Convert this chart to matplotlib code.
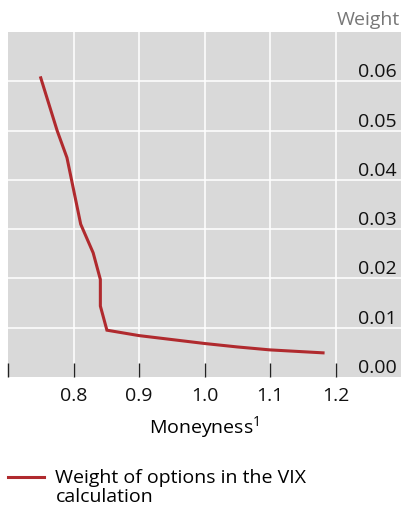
import matplotlib
matplotlib.use("Agg")
import matplotlib.pyplot as plt

plt.rcParams['font.family'] = ['Open Sans', 'DejaVu Sans']
plt.rcParams['mathtext.fontset'] = 'custom'
plt.rcParams['mathtext.rm'] = 'Open Sans'

moneyness = [0.750, 0.775, 0.790, 0.811, 0.830, 0.841, 0.841, 0.851, 0.90, 0.95, 1.00, 1.05, 1.10, 1.181]
weight = [0.0607, 0.0500, 0.0445, 0.0310, 0.0252, 0.0198, 0.0144, 0.0095, 0.0084, 0.0076, 0.0068, 0.0061, 0.0055, 0.0049]

xticks = [0.7, 0.8, 0.9, 1.0, 1.1, 1.2]
xticklabels = ['', '0.8', '0.9', '1.0', '1.1', '1.2']
yticks = [0.00, 0.01, 0.02, 0.03, 0.04, 0.05, 0.06]
yticklabels = ['0.00', '0.01', '0.02', '0.03', '0.04', '0.05', '0.06']

FS = 14
W, H = 406, 508
fig = plt.figure(figsize=(W/100, H/100), dpi=100)
ax = fig.add_axes([8/W, 1-377/H, (401-8)/W, (377-32)/H])
ax.set_facecolor('#d9d9d9')
for s in ax.spines.values():
    s.set_visible(False)

line, = ax.plot(moneyness, weight, color='#b02a2e', lw=2.2, solid_joinstyle='miter')

ax.set_xlim(0.7, 1.3)
ax.set_ylim(0, 0.07)
ax.set_xticks(xticks)
ax.set_xticklabels(xticklabels, fontsize=FS, color='#111111')
ax.tick_params(axis='x', direction='in', length=10, width=1, color='#222222', pad=7)

ax.yaxis.tick_right()
ax.set_yticks(yticks)
ax.set_yticklabels(yticklabels, fontsize=FS, color='#111111')
ax.tick_params(axis='y', length=0, pad=-3)
plt.setp(ax.get_yticklabels(), ha='right', va='bottom')

ax.grid(True, color='white', lw=1.1)
ax.set_axisbelow(True)
ax.get_xgridlines()[0].set_visible(False)
ax.get_ygridlines()[0].set_visible(False)

ax.set_xlabel('Moneyness$^1$', fontsize=FS, labelpad=7)

fig.text(400/W, 1-20/H, 'Weight', ha='right', va='center', fontsize=FS, color='#777777')

leg = fig.legend([line], ['Weight of options in the VIX\ncalculation'], loc='upper left',
                 bbox_to_anchor=(0/W, 1-461/H), frameon=False, fontsize=FS,
                 handlelength=1.85, handletextpad=0.6, borderaxespad=0)
for t in leg.get_texts():
    t.set_linespacing(1.1)
h = leg.legend_handles[0]
yd = h.get_ydata()
h.set_ydata([v + 8 for v in yd])

fig.savefig('out.png', dpi=100)
